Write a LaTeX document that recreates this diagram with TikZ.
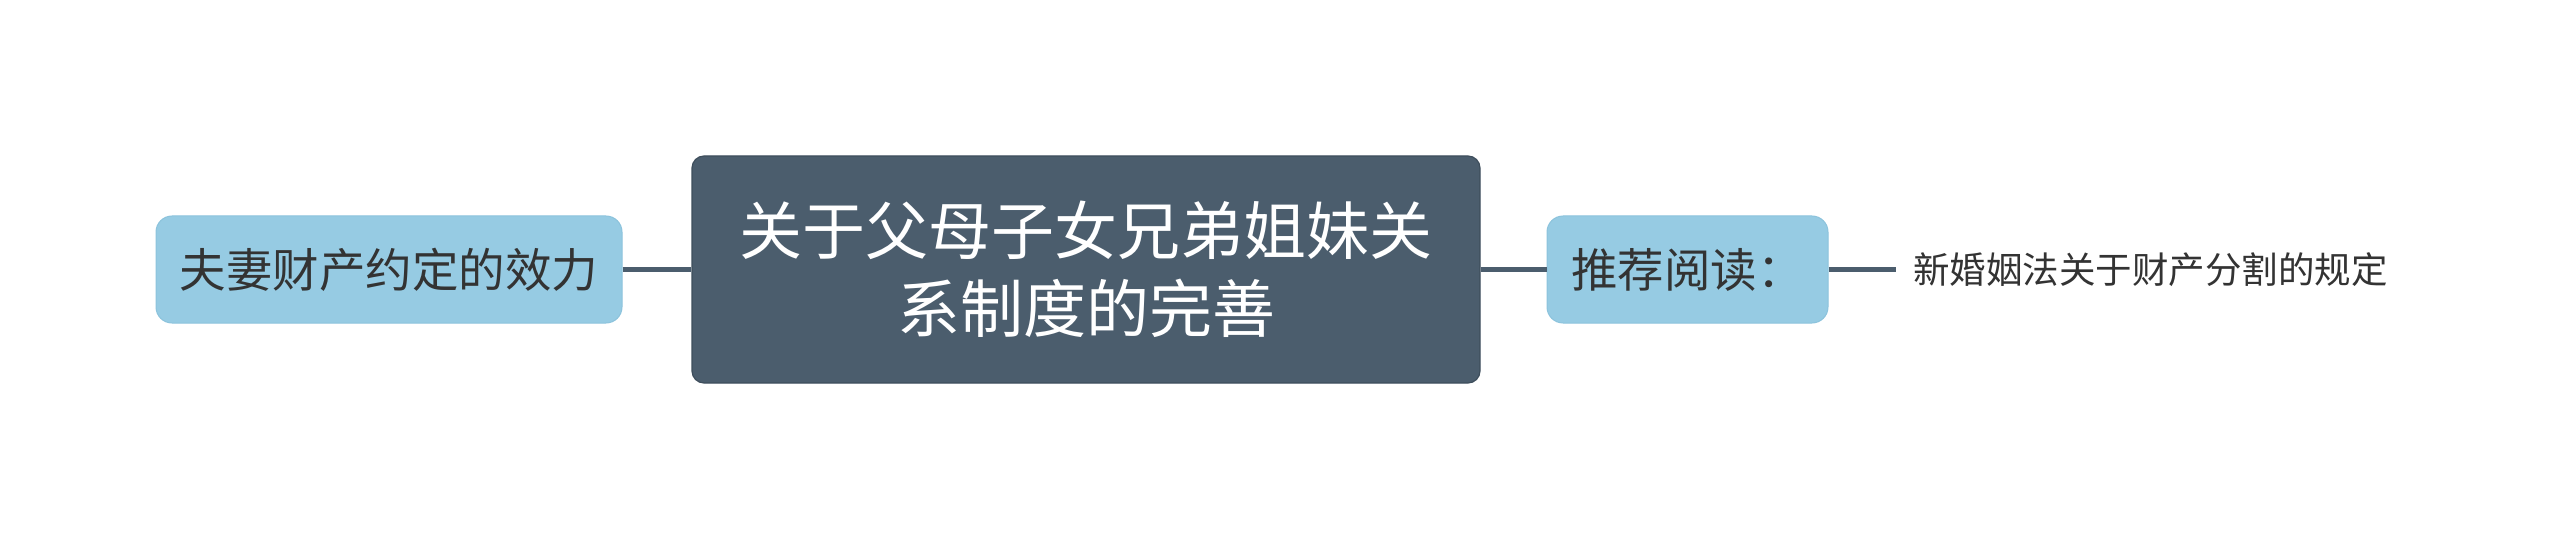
\documentclass[tikz,border=0pt]{standalone}
\usepackage{fontspec}
\newfontfamily\cjk{Noto Sans CJK SC}
\definecolor{centralfill}{HTML}{4B5D6D}
\definecolor{centraldraw}{HTML}{3E4E5C}
\definecolor{bluefill}{HTML}{96CBE3}
\definecolor{bluedraw}{HTML}{8CC3DC}
\definecolor{linecol}{HTML}{4B5D6D}
\definecolor{txt}{HTML}{333333}
\tikzset{
  central/.style={draw=centraldraw, line width=1.2pt, fill=centralfill, rounded corners=12pt,
    text=white, font=\cjk\fontsize{63}{78}\selectfont, align=center, inner sep=0pt,
    minimum width=788pt, minimum height=227pt},
  topic/.style={draw=bluedraw, line width=1pt, fill=bluefill, rounded corners=16pt,
    text=txt, font=\cjk\fontsize{46.5}{54}\selectfont, inner sep=0pt, minimum height=107pt},
  leaf/.style={text=txt, font=\cjk\fontsize{36.5}{42}\selectfont, inner xsep=17pt, inner ysep=4pt, anchor=west},
  conn/.style={draw=linecol, line width=5pt}
}
\begin{document}
\begin{tikzpicture}[x=1pt,y=-1pt]
\useasboundingbox (0,0) rectangle (2560,540);
\node[central] (c) at (1086,269.5) {关于父母子女兄弟姐妹关\\系制度的完善};
\node[topic, minimum width=466pt] (l) at (389,269.5) {夫妻财产约定的效力};
\node[topic, minimum width=281pt] (r) at (1687.5,269.5) {推荐阅读：};
\node[leaf] (f) at (1896,269.5) {新婚姻法关于财产分割的规定};
\draw[conn] (l.east) -- (c.west);
\draw[conn] (c.east) -- (r.west);
\draw[conn] (r.east) -- (f.west);
\end{tikzpicture}
\end{document}
